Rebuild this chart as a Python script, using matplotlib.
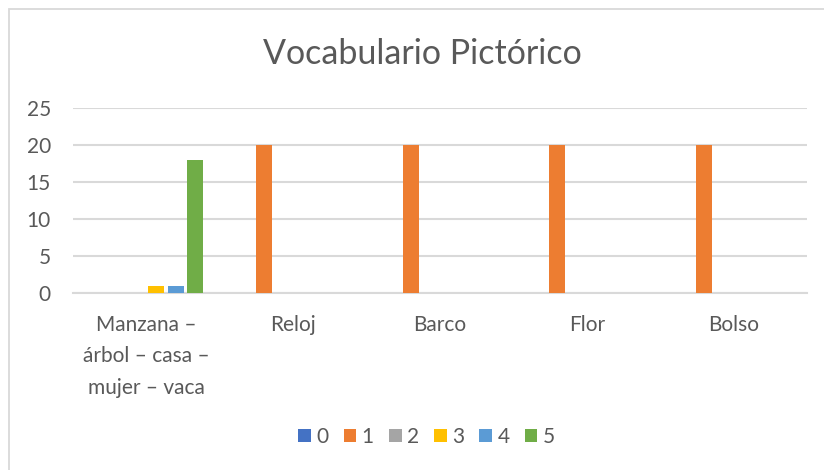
import numpy as np
import matplotlib
matplotlib.use('Agg')
import matplotlib.pyplot as plt
from matplotlib.patches import Rectangle

# data
categories = ['Manzana –\nárbol – casa –\nmujer – vaca', 'Reloj', 'Barco', 'Flor', 'Bolso']
series_names = ['0', '1', '2', '3', '4', '5']
s0 = [0, 0, 0, 0, 0]
s1 = [0, 20, 20, 20, 20]
s2 = [0, 0, 0, 0, 0]
s3 = [1, 0, 0, 0, 0]
s4 = [1, 0, 0, 0, 0]
s5 = [18, 0, 0, 0, 0]
colors = ['#4472c4', '#ed7d31', '#a5a5a5', '#ffc000', '#5b9bd5', '#70ad47']
yticks = [0, 5, 10, 15, 20, 25]

plt.rcParams['font.family'] = ['Lato', 'DejaVu Sans']
txt = '#595959'

fig = plt.figure(figsize=(8.24, 4.70), dpi=100)
# chart border (only top/left visible in the crop)
fig.patches.append(Rectangle((9 / 824, -0.1), 1.2, 1 - 9 / 470 + 0.1,
                             transform=fig.transFigure, fill=False,
                             edgecolor='#d9d9d9', linewidth=1.3))

ax = fig.add_axes([73 / 824, 1 - 293 / 470, (807 - 73) / 824, (293 - 108) / 470])

x = np.arange(len(categories))
step = 0.1335
width = 0.109
all_series = [s0, s1, s2, s3, s4, s5]
for i, vals in enumerate(all_series):
    ax.bar(x + (i - 2.5) * step, vals, width, color=colors[i], label=series_names[i], zorder=3)

ax.set_xlim(-0.5, len(categories) - 0.5)
ax.set_ylim(0, 25)
ax.set_yticks(yticks)
ax.yaxis.grid(True, color='#d9d9d9', linewidth=1.5, zorder=0)
ax.set_xticks(x)
ax.set_xticklabels(categories, linespacing=1.7)
ax.tick_params(axis='both', length=0, colors=txt, labelsize=15)
ax.tick_params(axis='x', pad=16)
ax.tick_params(axis='y', pad=16)
for s in ['top', 'right', 'left']:
    ax.spines[s].set_visible(False)
ax.spines['bottom'].set_color('#d9d9d9')
ax.spines['bottom'].set_linewidth(1.5)

fig.text(0.512, 1 - 54 / 470, 'Vocabulario Pictórico', ha='center', va='center',
         fontsize=24.5, color=txt)

leg = fig.legend(loc='center', bbox_to_anchor=(0.5176, 1 - 437 / 470), ncol=6,
                 frameon=False, fontsize=15, handlelength=0.62, handleheight=0.62,
                 handletextpad=0.25, columnspacing=0.72, borderpad=0)
for t in leg.get_texts():
    t.set_color(txt)

fig.savefig('out.png', dpi=100)
